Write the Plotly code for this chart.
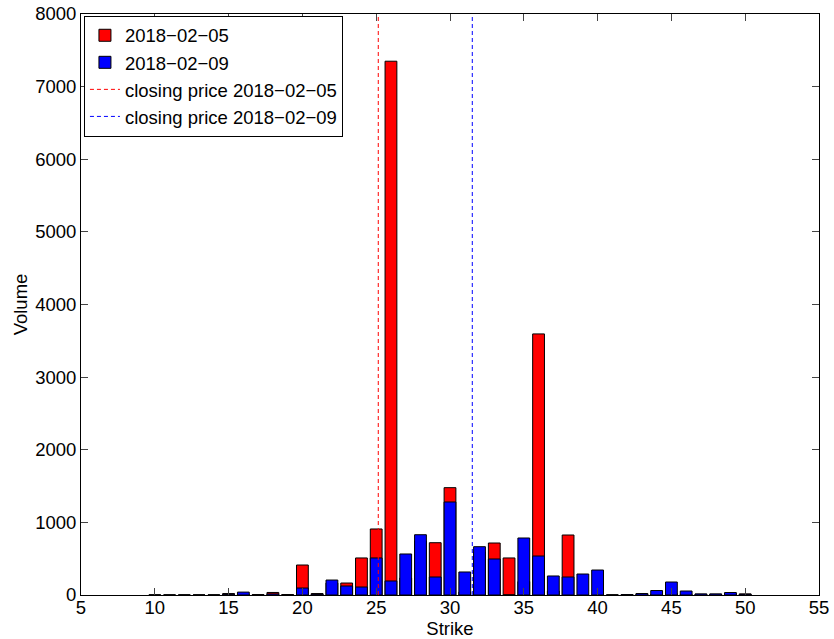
import plotly.graph_objects as go

strikes = list(range(10, 51))
volume_0205 = [0, 0, 0, 0, 0, 20, 10, 5, 35, 5,
               413, 20, 165, 165, 510, 909, 7350, 234, 744, 720,
               1478, 41, 592, 716, 510, 184, 3595, 55, 826, 0,
               0, 0, 5, 15, 10, 20, 10, 10, 10, 20, 15]
volume_0209 = [0, 0, 0, 0, 0, 10, 40, 0, 15, 0,
               96, 10, 206, 124, 110, 510, 193, 565, 830, 248,
               1281, 317, 665, 496, 0, 785, 537, 262, 248, 289,
               344, 0, 5, 20, 62, 179, 55, 15, 15, 34, 10]
close_0205 = 25.14
close_0209 = 31.51
y_max = 8000

FONT = "Liberation Sans, Arial, Helvetica, sans-serif"
FS = 18.5

fig = go.Figure()
fig.add_trace(go.Bar(x=strikes, y=volume_0205, width=0.8, name="2018−02−05",
                     marker=dict(color="#ff0000", line=dict(color="black", width=1))))
fig.add_trace(go.Bar(x=strikes, y=volume_0209, width=0.8, name="2018−02−09",
                     marker=dict(color="#0000ff", line=dict(color="black", width=1))))
fig.add_trace(go.Scatter(x=[close_0205, close_0205], y=[0, y_max], mode="lines",
                         name="closing price 2018−02−05",
                         line=dict(color="#ff0000", width=1, dash="4px,3px")))
fig.add_trace(go.Scatter(x=[close_0209, close_0209], y=[0, y_max], mode="lines",
                         name="closing price 2018−02−09",
                         line=dict(color="#0000ff", width=1, dash="4px,3px")))

fig.update_layout(
    width=834, height=639,
    margin=dict(l=81, r=15, t=14, b=44, autoexpand=False),
    barmode="overlay",
    plot_bgcolor="white", paper_bgcolor="white",
    font=dict(family=FONT, size=FS, color="black"),
    showlegend=True,
    legend=dict(x=0.004, y=0.997, xanchor="left", yanchor="top",
                bordercolor="black", borderwidth=1, bgcolor="white",
                font=dict(family=FONT, size=FS), itemwidth=30,
                tracegroupgap=0),
)
fig.update_xaxes(range=[5, 55], tick0=5, dtick=5, ticks="inside", ticklen=7,
                 showline=True, linecolor="black", linewidth=1, mirror="ticks",
                 showgrid=False, zeroline=False, automargin=False,
                 ticklabelstandoff=-4,
                 title=dict(text="Strike", standoff=2, font=dict(size=FS)))
fig.update_yaxes(range=[0, y_max], dtick=1000, ticks="inside", ticklen=7,
                 showline=True, linecolor="black", linewidth=1, mirror="ticks",
                 showgrid=False, zeroline=False, automargin=False,
                 title=dict(text="Volume", standoff=2, font=dict(size=FS)))

fig.write_html("out.html", config={"displayModeBar": False},
               post_script="document.body.style.margin='0';document.body.style.overflow='hidden';")
